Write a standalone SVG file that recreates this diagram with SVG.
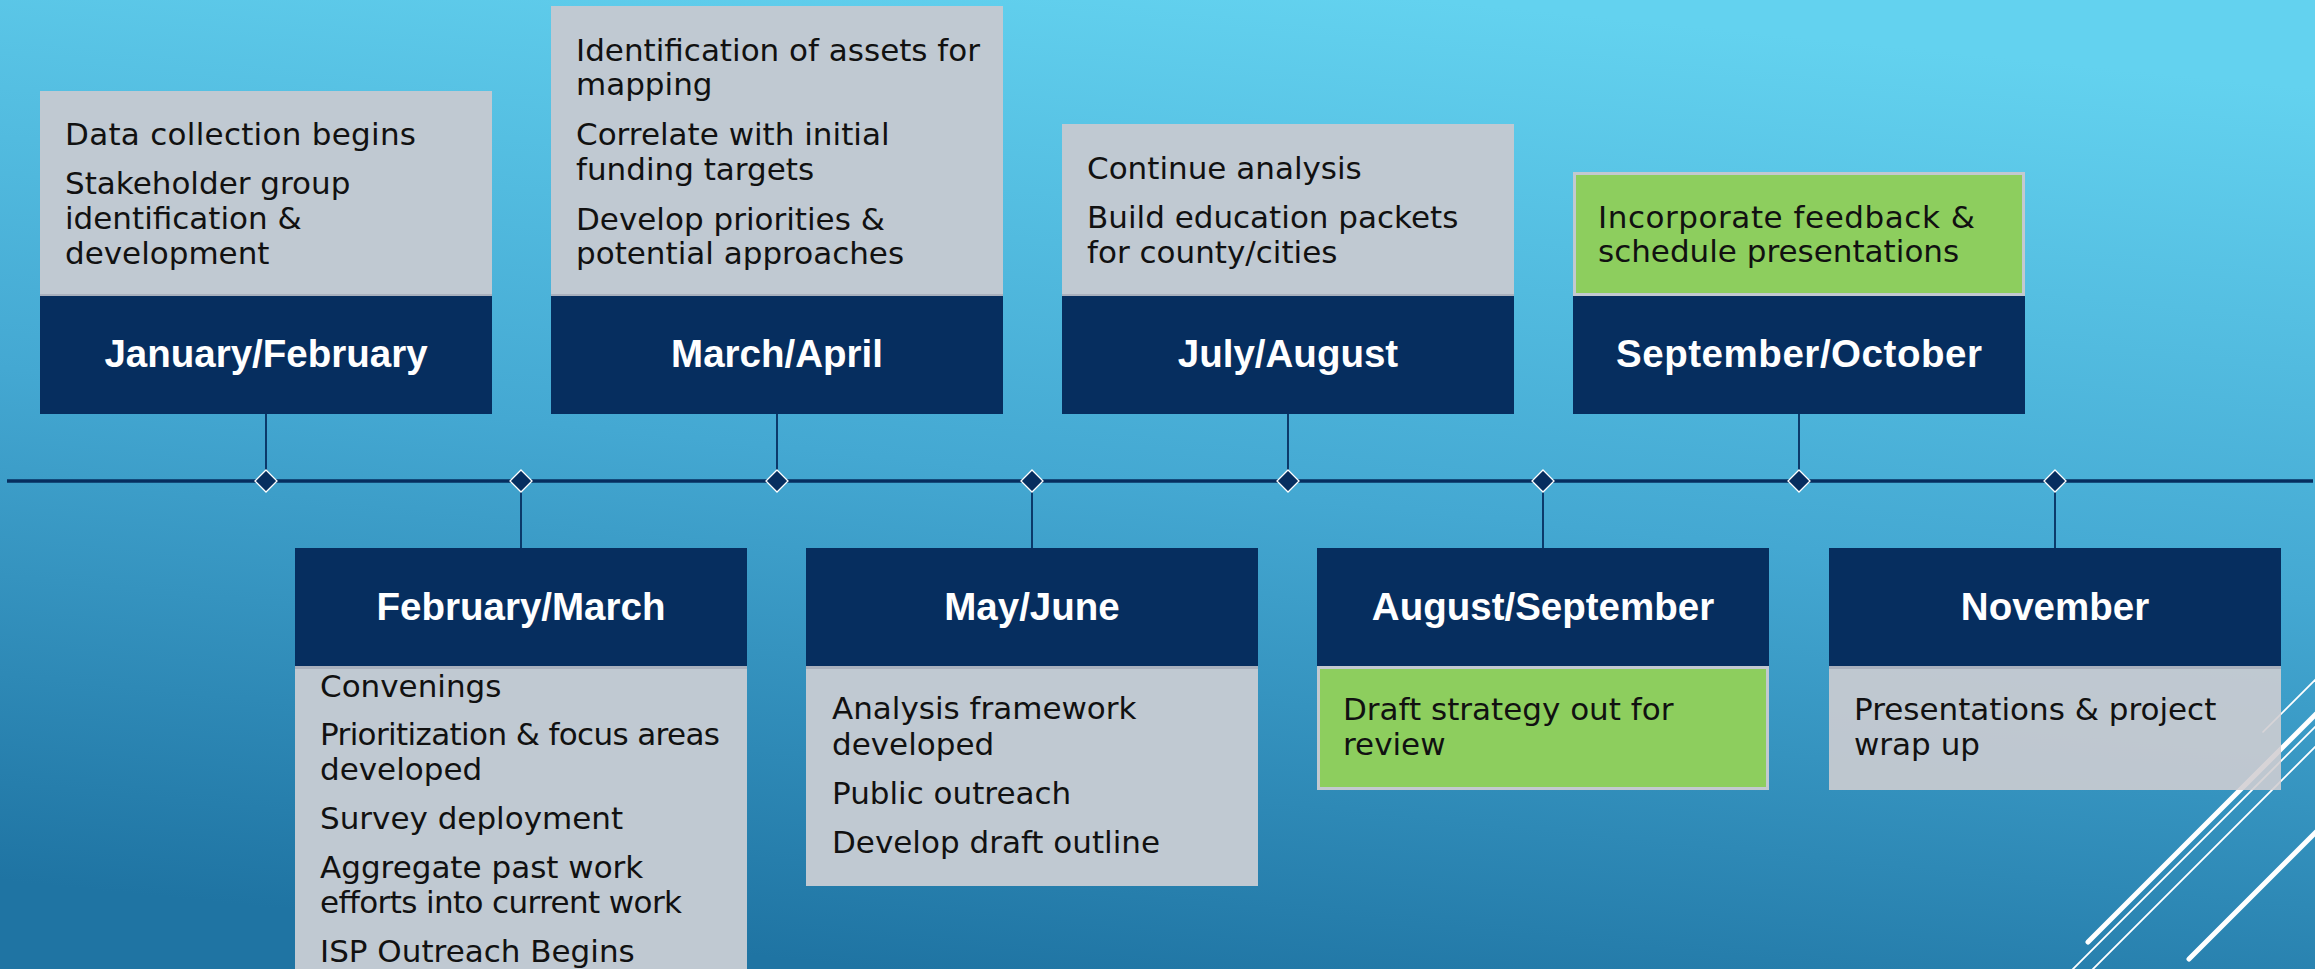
<svg xmlns="http://www.w3.org/2000/svg" width="2315" height="969" viewBox="0 0 2315 969">
<defs>
<linearGradient id="bg" x1="0.62" y1="0" x2="0.38" y2="1">
<stop offset="0" stop-color="#63d2ef"/>
<stop offset="0.5" stop-color="#44a8d2"/>
<stop offset="1" stop-color="#1f74a3"/>
</linearGradient>
<style>
.hdr{fill:#062e5f}
.gray{fill:#c0c9d2}
.strip{fill:#a9b0bd}
.green{fill:#8dce5e;stroke:#c3c9d0;stroke-width:3}
.ht{font-family:"Liberation Sans",Arial,sans-serif;font-weight:bold;font-size:38.5px;fill:#ffffff;text-anchor:middle}
.bt{font-family:"DejaVu Sans","Liberation Sans",sans-serif;font-size:31px;fill:#111111}
.tl{stroke:#062e5f;stroke-width:3.5;fill:none}
.cn{stroke:#062e5f;stroke-width:1.8;fill:none}
.dm{fill:#062e5f;stroke:#ffffff;stroke-width:1.3}
.deco{stroke:#ffffff;fill:none;stroke-linecap:round}
</style>
</defs>
<rect x="0" y="0" width="2315" height="969" fill="url(#bg)"/>

<g id="decoration">
<line class="deco" x1="2263" y1="732" x2="2330" y2="665" stroke-width="1.6"/>
<line class="deco" x1="2088" y1="942" x2="2330" y2="700" stroke-width="5"/>
<line class="deco" x1="2063" y1="979" x2="2330" y2="712" stroke-width="1.8"/>
<line class="deco" x1="2083" y1="979" x2="2330" y2="732" stroke-width="1.8"/>
<line class="deco" x1="2189" y1="959" x2="2330" y2="818" stroke-width="5"/>
</g>

<g id="connectors">
<line class="tl" x1="7" y1="481" x2="2313" y2="481"/>
<line class="cn" x1="266" y1="414" x2="266" y2="470"/>
<line class="cn" x1="521" y1="492" x2="521" y2="548"/>
<line class="cn" x1="777" y1="414" x2="777" y2="470"/>
<line class="cn" x1="1032" y1="492" x2="1032" y2="548"/>
<line class="cn" x1="1288" y1="414" x2="1288" y2="470"/>
<line class="cn" x1="1543" y1="492" x2="1543" y2="548"/>
<line class="cn" x1="1799" y1="414" x2="1799" y2="470"/>
<line class="cn" x1="2055" y1="492" x2="2055" y2="548"/>
<polygon class="dm" points="266,470 277,481 266,492 255,481"/>
<polygon class="dm" points="521,470 532,481 521,492 510,481"/>
<polygon class="dm" points="777,470 788,481 777,492 766,481"/>
<polygon class="dm" points="1032,470 1043,481 1032,492 1021,481"/>
<polygon class="dm" points="1288,470 1299,481 1288,492 1277,481"/>
<polygon class="dm" points="1543,470 1554,481 1543,492 1532,481"/>
<polygon class="dm" points="1799,470 1810,481 1799,492 1788,481"/>
<polygon class="dm" points="2055,470 2066,481 2055,492 2044,481"/>
</g>

<g id="jan-feb">
<rect class="gray" x="40" y="91" width="452" height="206"/>
<rect class="strip" x="40" y="294" width="452" height="3"/>
<rect class="hdr" x="40" y="296" width="452" height="118"/>
<text class="ht" x="266" y="367">January/February</text>
<text class="bt" x="65" y="145" textLength="351">Data collection begins</text>
<text class="bt" x="65" y="194">Stakeholder group</text>
<text class="bt" x="65" y="229">identification &amp;</text>
<text class="bt" x="65" y="264">development</text>
</g>

<g id="mar-apr">
<rect class="gray" x="551" y="6" width="452" height="291"/>
<rect class="strip" x="551" y="294" width="452" height="3"/>
<rect class="hdr" x="551" y="296" width="452" height="118"/>
<text class="ht" x="777" y="367">March/April</text>
<text class="bt" x="576" y="61">Identification of assets for</text>
<text class="bt" x="576" y="95">mapping</text>
<text class="bt" x="576" y="145">Correlate with initial</text>
<text class="bt" x="576" y="180">funding targets</text>
<text class="bt" x="576" y="230">Develop priorities &amp;</text>
<text class="bt" x="576" y="264">potential approaches</text>
</g>

<g id="jul-aug">
<rect class="gray" x="1062" y="124" width="452" height="173"/>
<rect class="strip" x="1062" y="294" width="452" height="3"/>
<rect class="hdr" x="1062" y="296" width="452" height="118"/>
<text class="ht" x="1288" y="367">July/August</text>
<text class="bt" x="1087" y="179">Continue analysis</text>
<text class="bt" x="1087" y="228">Build education packets</text>
<text class="bt" x="1087" y="263">for county/cities</text>
</g>

<g id="sep-oct">
<rect class="green" x="1574.5" y="173.5" width="449" height="121"/>
<rect class="hdr" x="1573" y="296" width="452" height="118"/>
<text class="ht" x="1799" y="367" textLength="366">September/October</text>
<text class="bt" x="1598" y="228" textLength="377">Incorporate feedback &amp;</text>
<text class="bt" x="1598" y="262">schedule presentations</text>
</g>

<g id="feb-mar">
<rect class="hdr" x="295" y="548" width="452" height="118"/>
<rect class="gray" x="295" y="666" width="452" height="310"/>
<rect class="strip" x="295" y="666" width="452" height="3"/>
<text class="ht" x="521" y="620">February/March</text>
<text class="bt" x="320" y="697">Convenings</text>
<text class="bt" x="320" y="745" textLength="400">Prioritization &amp; focus areas</text>
<text class="bt" x="320" y="780">developed</text>
<text class="bt" x="320" y="829">Survey deployment</text>
<text class="bt" x="320" y="878">Aggregate past work</text>
<text class="bt" x="320" y="913" textLength="362">efforts into current work</text>
<text class="bt" x="320" y="962">ISP Outreach Begins</text>
</g>

<g id="may-jun">
<rect class="hdr" x="806" y="548" width="452" height="118"/>
<rect class="gray" x="806" y="666" width="452" height="220"/>
<rect class="strip" x="806" y="666" width="452" height="3"/>
<text class="ht" x="1032" y="620">May/June</text>
<text class="bt" x="832" y="719">Analysis framework</text>
<text class="bt" x="832" y="755">developed</text>
<text class="bt" x="832" y="804">Public outreach</text>
<text class="bt" x="832" y="853">Develop draft outline</text>
</g>

<g id="aug-sep">
<rect class="hdr" x="1317" y="548" width="452" height="118"/>
<rect class="green" x="1318.5" y="667.5" width="449" height="121"/>
<text class="ht" x="1543" y="620">August/September</text>
<text class="bt" x="1343" y="720">Draft strategy out for</text>
<text class="bt" x="1343" y="755">review</text>
</g>

<g id="november">
<rect class="hdr" x="1829" y="548" width="452" height="118"/>
<rect x="1829" y="666" width="452" height="124" fill="#d1ced2" fill-opacity="0.88"/>
<rect class="strip" x="1829" y="666" width="452" height="3"/>
<text class="ht" x="2055" y="620">November</text>
<text class="bt" x="1854" y="720">Presentations &amp; project</text>
<text class="bt" x="1854" y="755">wrap up</text>
</g>
</svg>
